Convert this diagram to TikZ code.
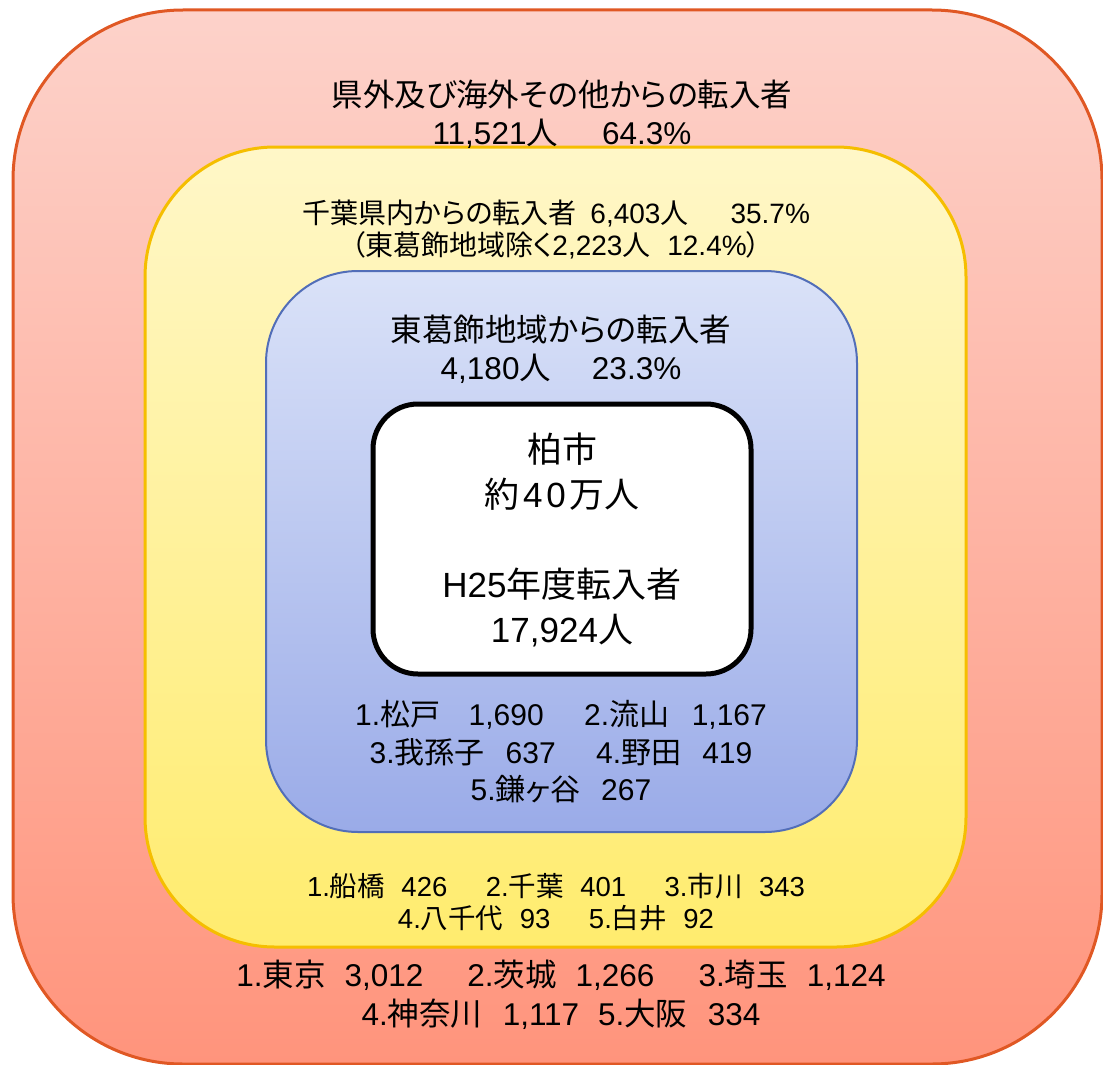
\documentclass[tikz,border=0pt]{standalone}
\usepackage{fontspec}
\setmainfont{Liberation Sans}
\newfontfamily\cjkf{Noto Sans CJK JP}[RawFeature=+palt]
\XeTeXinterchartokenstate=1
\newXeTeXintercharclass\JPcls
\makeatletter
\def\jp@range#1#2{\count@=#1\relax
  \loop\XeTeXcharclass\count@=\JPcls\ifnum\count@<#2\advance\count@ by 1\relax\repeat}
\jp@range{"3000}{"30FF}
\jp@range{"4E00}{"9FFF}
\jp@range{"FF00}{"FFEF}
\makeatother
\XeTeXinterchartoks 0 \JPcls = {\begingroup\cjkf}
\XeTeXinterchartoks 4095 \JPcls = {\begingroup\cjkf}
\XeTeXinterchartoks \JPcls 0 = {\endgroup}
\XeTeXinterchartoks \JPcls 4095 = {\endgroup}
\definecolor{outerTop}{RGB}{253,210,202}
\definecolor{outerBot}{RGB}{255,148,124}
\definecolor{outerLine}{RGB}{224,88,36}
\definecolor{yelTop}{RGB}{255,247,200}
\definecolor{yelBot}{RGB}{255,236,110}
\definecolor{yelLine}{RGB}{245,190,0}
\definecolor{bluTop}{RGB}{218,226,248}
\definecolor{bluBot}{RGB}{154,171,232}
\definecolor{bluLine}{RGB}{82,110,184}
\tikzset{
  txt/.style={align=center, inner sep=0pt, text=black},
  big/.style={txt, font=\fontsize{31.5}{38}\selectfont},
  lst/.style={txt, font=\fontsize{30}{37.5}\selectfont},
  olst/.style={txt, font=\fontsize{31.5}{39}\selectfont},
  mid/.style={txt, font=\fontsize{28}{32}\selectfont},
  ylst/.style={txt, font=\fontsize{27.5}{32}\selectfont},
  ctr/.style={txt, font=\fontsize{35}{45}\selectfont},
}
\begin{document}
\begin{tikzpicture}[x=1pt,y=-1pt]
\useasboundingbox (0,0) rectangle (1103,1065);
% outer
\path[draw=outerLine, line width=3pt, top color=outerTop, bottom color=outerBot, rounded corners=170pt]
  (13,10) rectangle (1102,1064);
% yellow
\path[draw=yelLine, line width=3pt, top color=yelTop, bottom color=yelBot, rounded corners=130pt]
  (145,147) rectangle (966,947);
% blue
\path[draw=bluLine, line width=2pt, top color=bluTop, bottom color=bluBot, rounded corners=92pt]
  (266,271) rectangle (857,832);
% white centre
\node[draw=black, line width=5pt, fill=white, rounded corners=45pt, minimum width=378pt, minimum height=270pt, inner sep=0pt] (city) at (562,539) {};

\node[big] (outerT) at (562,114) {県外及び海外その他からの転入者\\11,521人\hspace{1.4em}64.3\%};
\node[mid] (yelT) at (556,230) {千葉県内からの転入者\hspace{0.5em}6,403人\hspace{1.5em}35.7\%\\（東葛飾地域除く2,223人\hspace{0.6em}12.4\%）};
\node[big] (bluT) at (561,349) {東葛飾地域からの転入者\\4,180人\hspace{1.3em}23.3\%};
\node[ctr] (cityT) at (562,540) {柏市\\約\kern4pt 4\kern4pt 0\kern4pt 万人\\[45pt]H25年度転入者\\17,924人};
\node[lst] (bluL) at (561,752) {1.松戸\hspace{0.95em}1,690\hspace{1.35em}2.流山\hspace{0.75em}1,167\\3.我孫子\hspace{0.7em}637\hspace{1.35em}4.野田\hspace{0.7em}419\\5.鎌ヶ谷\hspace{0.7em}267};
\node[ylst] (yelL) at (556,902) {1.船橋\hspace{0.6em}426\hspace{1.4em}2.千葉\hspace{0.6em}401\hspace{1.4em}3.市川\hspace{0.6em}343\\4.八千代\hspace{0.6em}93\hspace{1.4em}5.白井\hspace{0.6em}92};
\node[olst] (outL) at (561,995) {1.東京\hspace{0.6em}3,012\hspace{1.4em}2.茨城\hspace{0.6em}1,266\hspace{1.4em}3.埼玉\hspace{0.6em}1,124\\4.神奈川\hspace{0.65em}1,117\hspace{0.6em}5.大阪\hspace{0.65em}334};
\end{tikzpicture}
\end{document}
